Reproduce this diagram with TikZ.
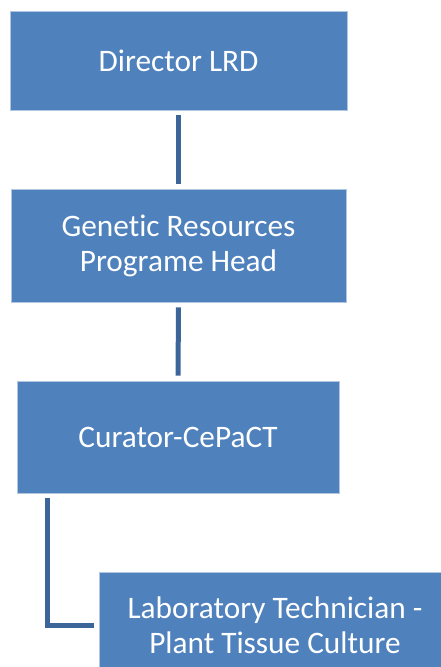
\documentclass[tikz,border=0pt]{standalone}
\usepackage{fontspec}
\setmainfont{Carlito}[Ligatures=NoCommon]
\definecolor{boxblue}{HTML}{4F81BD}
\definecolor{linkblue}{HTML}{3C6699}
\begin{document}
\begin{tikzpicture}[x=1pt,y=-1pt,
  orgbox/.style={fill=boxblue,draw=white!55!boxblue,line width=0.6pt,inner sep=0pt,
    text=white,font=\fontsize{31.3}{35}\selectfont,align=center},
  link/.style={draw=linkblue,line width=5pt,line cap=butt,shorten <=5pt,shorten >=5pt}]
\useasboundingbox (0,0) rectangle (441,667);
\node[orgbox,minimum width=337pt,minimum height=99pt] (d) at (178.5,60.5) {Director LRD};
\node[orgbox,minimum width=335pt,minimum height=113pt] (g) at (178.5,245.5) {Genetic Resources\\Programe Head};
\node[orgbox,minimum width=322pt,minimum height=112pt] (c) at (178,437) {Curator-CePaCT};
\node[orgbox,minimum width=352pt,minimum height=106pt] (l) at (275,625) {Laboratory Technician -\\Plant Tissue Culture};
\draw[link] (d.south) -- (g.north);
\draw[link] (g.south) -- (c.north);
\coordinate (cs) at ([xshift=30.5pt]c.south west);
\draw[link] (cs) |- (l.west);
\end{tikzpicture}
\end{document}
